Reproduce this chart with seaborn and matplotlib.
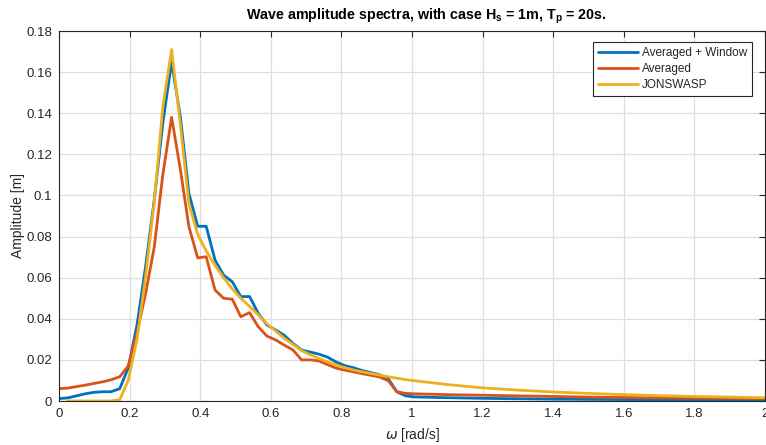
import numpy as np
import pandas as pd
import matplotlib
matplotlib.use("Agg")
import matplotlib.pyplot as plt
from matplotlib.ticker import FormatStrFormatter
import seaborn as sns

# ---------------- data ----------------
omega_grid = [0.000, 0.025, 0.049, 0.074, 0.098, 0.123, 0.147, 0.172, 0.196, 0.221,
              0.245, 0.270, 0.294, 0.319, 0.344, 0.368, 0.393, 0.417, 0.442, 0.466,
              0.491, 0.515, 0.540, 0.564, 0.589, 0.614, 0.638, 0.663, 0.687, 0.712,
              0.736, 0.761, 0.785, 0.810, 0.834, 0.859, 0.884, 0.908, 0.933, 0.957,
              0.982, 1.006]
omega_tail = [1.1, 1.2, 1.3, 1.4, 1.5, 1.6, 1.8, 2.0]

amp_window = [0.0012, 0.0015, 0.0025, 0.0035, 0.0042, 0.0045, 0.0045, 0.0060, 0.0160, 0.0370,
              0.0650, 0.0980, 0.1350, 0.1650, 0.1380, 0.1010, 0.0850, 0.0850, 0.0686, 0.0613,
              0.0580, 0.0508, 0.0508, 0.0428, 0.0370, 0.0345, 0.0320, 0.0280, 0.0248, 0.0238,
              0.0228, 0.0213, 0.0190, 0.0172, 0.0162, 0.0148, 0.0138, 0.0128, 0.0108, 0.0045,
              0.0025, 0.0020]
amp_window_tail = [0.0016, 0.0013, 0.0011, 0.0009, 0.0008, 0.0007, 0.0006, 0.0005]

amp_avg = [0.0060, 0.0063, 0.0070, 0.0077, 0.0085, 0.0093, 0.0103, 0.0118, 0.0170, 0.0330,
           0.0520, 0.0750, 0.1100, 0.1380, 0.1124, 0.0848, 0.0696, 0.0702, 0.0540, 0.0500,
           0.0495, 0.0410, 0.0430, 0.0362, 0.0316, 0.0297, 0.0272, 0.0248, 0.0200, 0.0200,
           0.0195, 0.0177, 0.0160, 0.0150, 0.0142, 0.0133, 0.0125, 0.0117, 0.0098, 0.0045,
           0.0037, 0.0035]
amp_avg_tail = [0.0031, 0.0028, 0.0025, 0.0022, 0.0019, 0.0017, 0.0014, 0.0012]

omega_jons = omega_grid[1:] + [1.1, 1.2, 1.3, 1.4, 1.5, 1.6, 1.7, 1.8, 1.9, 2.0]
amp_jons = [0.0, 0.0, 0.0, 0.0, 0.0, 0.0, 0.0006, 0.0100, 0.0300, 0.0600,
            0.0970, 0.1430, 0.1710, 0.1340, 0.0960, 0.0810, 0.0730, 0.0660, 0.0600, 0.0545,
            0.0500, 0.0460, 0.0420, 0.0375, 0.0340, 0.0305, 0.0275, 0.0245, 0.0225, 0.0207,
            0.0190, 0.0175, 0.0162, 0.0151, 0.0142, 0.0134, 0.0126, 0.0118, 0.0111, 0.0104,
            0.0099,
            0.0080, 0.0064, 0.0053, 0.0044, 0.0037, 0.0031, 0.0026, 0.0022, 0.0019, 0.0016]

series_names = ["Averaged + Window", "Averaged", "JONSWASP"]
series_colors = ["#0072BD", "#D95319", "#EDB120"]

x_ticks = [0, 0.2, 0.4, 0.6, 0.8, 1.0, 1.2, 1.4, 1.6, 1.8, 2.0]
y_ticks = [0, 0.02, 0.04, 0.06, 0.08, 0.10, 0.12, 0.14, 0.16, 0.18]

# ---------------- plot ----------------
sns.set_theme(style="white")
plt.rcParams["font.family"] = ["Liberation Sans", "DejaVu Sans"]
plt.rcParams["mathtext.fontset"] = "custom"
plt.rcParams["mathtext.rm"] = "Liberation Sans"
plt.rcParams["mathtext.bf"] = "Liberation Sans:bold"

fig = plt.figure(figsize=(7.66, 4.45), dpi=100)
ax = fig.add_axes([59 / 766, 1 - 401 / 445, 706 / 766, 370 / 445])

data = [
    (omega_grid + omega_tail, amp_window + amp_window_tail),
    (omega_grid + omega_tail, amp_avg + amp_avg_tail),
    (omega_jons, amp_jons),
]
for (xs, ys), name, col in zip(data, series_names, series_colors):
    sns.lineplot(x=xs, y=ys, ax=ax, color=col, linewidth=2.0, label=name,
                 errorbar=None, sort=False)

ax.set_xlim(0, 2)
ax.set_ylim(0, 0.18)
ax.set_xticks(x_ticks)
ax.set_yticks(y_ticks)
ax.xaxis.set_major_formatter(FormatStrFormatter("%g"))
ax.yaxis.set_major_formatter(FormatStrFormatter("%g"))
ax.grid(True, color="#dedede", linewidth=0.9)
ax.set_axisbelow(True)
ax.tick_params(direction="in", length=4, width=0.8, colors="#262626",
               labelsize=9.5, top=True, right=True, pad=5)
for sp in ax.spines.values():
    sp.set_color("#262626")
    sp.set_linewidth(0.8)

ax.set_xlabel(r"$\omega$ [rad/s]", fontsize=10, color="#262626", labelpad=4)
ax.set_ylabel("Amplitude [m]", fontsize=10, color="#262626", labelpad=1)
ax.set_title(r"Wave amplitude spectra, with case H$_\mathbf{s}$ = 1m, T$_\mathbf{p}$ = 20s.",
             fontsize=10.3, fontweight="bold", color="black", x=0.521, pad=8)

leg = ax.legend(loc="upper right", bbox_to_anchor=(0.982, 0.969), fontsize=8.5,
                frameon=True, fancybox=False, framealpha=1, edgecolor="#262626",
                handlelength=3.4, handletextpad=0.35, borderpad=0.4,
                labelspacing=0.35, borderaxespad=0)
leg.get_frame().set_linewidth(0.8)

fig.savefig("out.png", dpi=100)
